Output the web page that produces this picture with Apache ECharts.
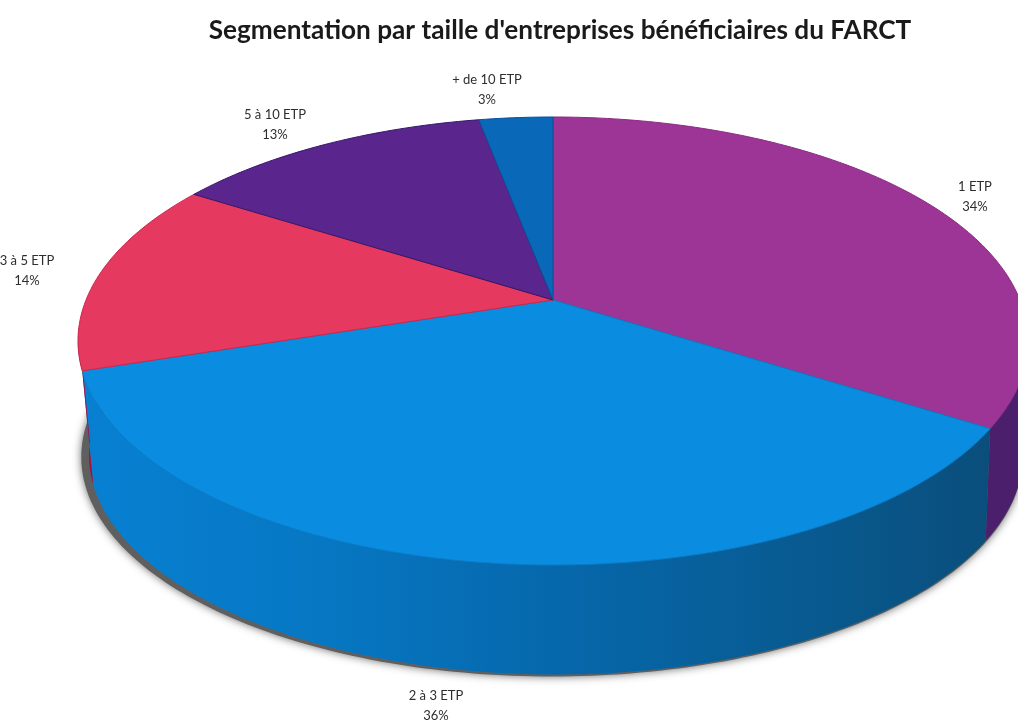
<!DOCTYPE html>
<html>
<head>
<meta charset="utf-8">
<style>html,body{margin:0;padding:0;background:#fff}#c{width:1018px;height:722px}</style>
<script src="https://cdn.jsdelivr.net/npm/echarts@6/dist/echarts.min.js"></script>
</head>
<body>
<div id="c"></div>
<script>
const titleText = "Segmentation par taille d'entreprises bénéficiaires du FARCT";
const categories = ['1 ETP', '2 à 3 ETP', '3 à 5 ETP', '5 à 10 ETP', '+ de 10 ETP'];
const shares = [34, 36, 14, 13, 3];

const topColors = ['#9c3596', '#0a8de0', '#e5395f', '#5a258c', '#0a68b8'];
const edgeColors = ['#8a2c84', '#0a7cc8', '#c9284f', '#34176a', '#0b4f9c'];
const sideColors = ['#4c1f6c', null, '#a80f3c', '#3a1860', '#0a4a90'];
const labelAnchors = [[975, 197], [436, 706], [27, 271], [275, 125], [487, 90]];

// Perspective view of the disc: apex, horizontal spread, projective terms.
const view = { x0: 553, y0: 300, d: 467, a: 161.6, c: -0.183 };
// The lower rim is the upper rim seen through a homothety.
const rim = { topCx: 550, topCy: 341, cx: 553, cy: 455, s: 0.983, sy: 0.98 };

function project(deg) {
  const t = deg * Math.PI / 180, u = Math.sin(t), v = -Math.cos(t), w = 1 + view.c * v;
  return [view.x0 + view.d * u / w, (view.a * v + view.y0) / w];
}
function lower(p) {
  return [rim.cx + (p[0] - rim.topCx) * rim.s, rim.cy + (p[1] - rim.topCy) * rim.sy];
}
function arc(from, to) {
  const pts = [], n = Math.max(2, Math.ceil(Math.abs(to - from)));
  for (let i = 0; i <= n; i++) pts.push(project(from + (to - from) * i / n));
  return pts;
}
const total = shares.reduce((a, b) => a + b, 0);
const starts = [];
shares.reduce((acc, v, i) => { starts[i] = acc; return acc + v; }, 0);
const angle = v => v / total * 360;

// Only the front part of the rim shows a wall.
const frontFrom = 97, frontTo = 263;
const blueSide = new echarts.graphic.LinearGradient(1, 0, 0, 0, [
  { offset: 0, color: '#0a4e7c' }, { offset: 0.2, color: '#085a90' },
  { offset: 0.48, color: '#0668ac' }, { offset: 0.75, color: '#0678c4' },
  { offset: 1, color: '#0880d2' }
]);

function renderWall(params) {
  const i = params.dataIndex;
  const a0 = Math.max(angle(starts[i]), frontFrom), a1 = Math.min(angle(starts[i] + shares[i]), frontTo);
  const children = [];
  if (i === 0) {
    children.push({
      type: 'polygon',
      shape: { points: arc(0, 360).map(lower).map(p => [rim.cx + (p[0] - rim.cx) * 1.008 - 4, p[1] + 2]) },
      style: { fill: '#5f5f5f', shadowBlur: 8, shadowColor: 'rgba(80,80,80,0.85)' }
    });
  }
  if (a1 > a0) {
    const top = arc(a0, a1);
    children.push({
      type: 'polygon',
      shape: { points: top.concat(top.map(lower).reverse()) },
      style: { fill: sideColors[i] || blueSide }
    });
  }
  return { type: 'group', children };
}

function renderFace(params) {
  const i = params.dataIndex;
  const a0 = angle(starts[i]), a1 = angle(starts[i] + shares[i]);
  return {
    type: 'group',
    children: [{
      type: 'polygon',
      shape: { points: [[view.x0, view.y0]].concat(arc(a0, a1)) },
      style: { fill: topColors[i], stroke: edgeColors[i], lineWidth: 1 }
    }, {
      type: 'text',
      style: {
        x: labelAnchors[i][0], y: labelAnchors[i][1],
        text: categories[i] + '\n' + shares[i] + '%',
        align: 'center', verticalAlign: 'middle',
        font: '13px Lato', lineHeight: 20, fill: '#2e2e2e'
      }
    }]
  };
}

const chart = echarts.init(document.getElementById('c'), null, { renderer: 'canvas' });
const items = categories.map((name, i) => ({ name, value: shares[i] }));
chart.setOption({
  animation: false,
  title: {
    text: titleText, left: 555, top: 13, textAlign: 'center',
    textStyle: { fontFamily: 'Lato', fontWeight: 'bold', fontSize: 26.2, color: '#1a1a1a' }
  },
  series: [
    { type: 'custom', coordinateSystem: 'none', silent: true, data: items, renderItem: renderWall, z: 1 },
    { type: 'custom', coordinateSystem: 'none', silent: true, data: items, renderItem: renderFace, z: 2 }
  ]
});
</script>
</body>
</html>
